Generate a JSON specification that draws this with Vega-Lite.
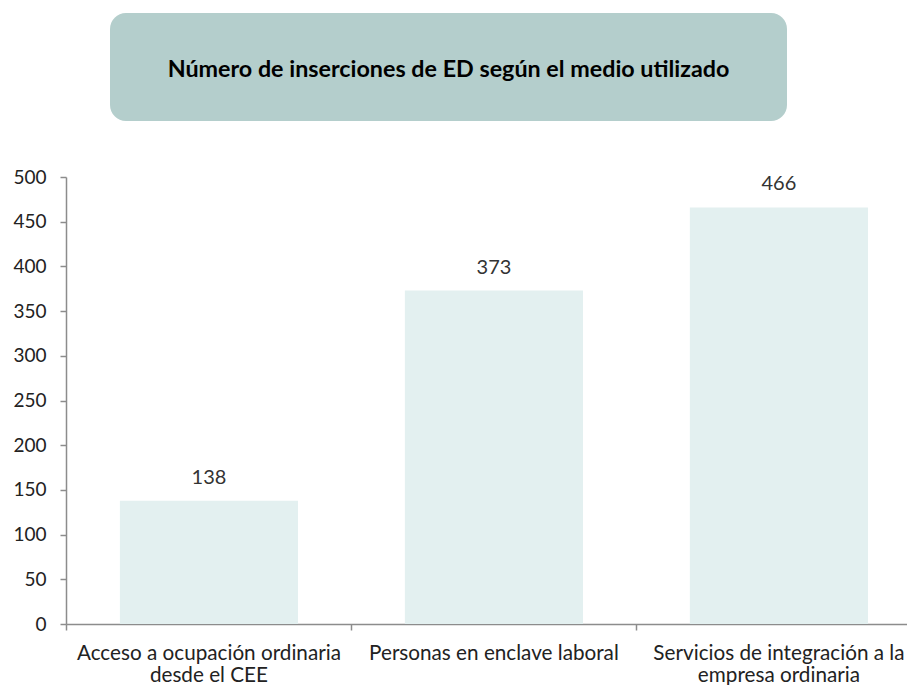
{
  "$schema": "https://vega.github.io/schema/vega-lite/v6.json",
  "background": "white",
  "padding": {"left": 12, "top": 13, "right": 0, "bottom": 0},
  "config": {
    "font": "Lato",
    "view": {"stroke": null},
    "concat": {"spacing": 47}
  },
  "vconcat": [
    {
      "hconcat": [
        {
          "width": 1,
          "height": 108,
          "data": {"values": [{"t": ""}]},
          "mark": {"type": "text", "opacity": 0},
          "encoding": {"text": {"field": "t"}}
        },
        {
          "width": 677,
          "height": 108,
          "view": {"fill": "#b4cecc", "cornerRadius": 16, "stroke": null},
          "data": {"values": [{"titulo": "Número de inserciones de ED según el medio utilizado"}]},
          "mark": {"type": "text", "fontWeight": "bold", "fontSize": 23.3, "color": "#000000", "align": "center", "baseline": "middle", "dy": 3},
          "encoding": {"text": {"field": "titulo"}}
        }
      ],
      "spacing": 43
    },
    {
      "width": 841,
      "height": 447,
      "data": {
        "values": [
          {"medio": "Acceso a ocupación ordinaria desde el CEE", "n": 138},
          {"medio": "Personas en enclave laboral", "n": 373},
          {"medio": "Servicios de integración a la empresa ordinaria", "n": 466}
        ]
      },
      "encoding": {
        "x": {
          "field": "medio",
          "type": "nominal",
          "sort": null,
          "scale": {"paddingInner": 0.375, "paddingOuter": 0.163, "align": 0.58}
        },
        "y": {
          "field": "n",
          "type": "quantitative",
          "scale": {"domain": [0, 500], "nice": false},
          "axis": {
            "title": null,
            "grid": false,
            "values": [0, 50, 100, 150, 200, 250, 300, 350, 400, 450, 500],
            "labelFontSize": 19,
            "labelColor": "#222222",
            "labelPadding": 14,
            "domainColor": "#8c8c8c",
            "domainWidth": 1.5,
            "tickColor": "#8c8c8c",
            "tickWidth": 1.5,
            "tickSize": 6
          }
        }
      },
      "layer": [
        {
          "mark": {"type": "bar", "color": "#e3f0f0"},
          "encoding": {
            "x": {
              "field": "medio",
              "type": "nominal",
              "sort": null,
              "axis": {
                "orient": "bottom",
                "title": null,
                "labelAngle": 0,
                "labelLimit": 0,
                "ticks": false,
                "labelFontSize": 20.7,
                "labelColor": "#222222",
                "labelPadding": 19,
                "labelLineHeight": 22,
                "labelExpr": "datum.value == 'Acceso a ocupación ordinaria desde el CEE' ? ['Acceso a ocupación ordinaria', 'desde el CEE'] : datum.value == 'Servicios de integración a la empresa ordinaria' ? ['Servicios de integración a la', 'empresa ordinaria'] : datum.value",
                "domainColor": "#8c8c8c",
                "domainWidth": 1.5
              }
            }
          }
        },
        {
          "mark": {"type": "text", "fontSize": 20, "color": "#333333", "baseline": "alphabetic", "dy": -17},
          "encoding": {
            "x": {
              "field": "medio",
              "type": "nominal",
              "sort": null,
              "axis": {
                "orient": "bottom",
                "title": null,
                "labels": false,
                "domain": false,
                "bandPosition": 0,
                "tickOffset": -53.4,
                "tickColor": "#8c8c8c",
                "tickWidth": 1.5,
                "tickSize": 6
              }
            },
            "text": {"field": "n", "type": "quantitative"}
          }
        }
      ],
      "resolve": {"axis": {"x": "independent"}}
    }
  ]
}
